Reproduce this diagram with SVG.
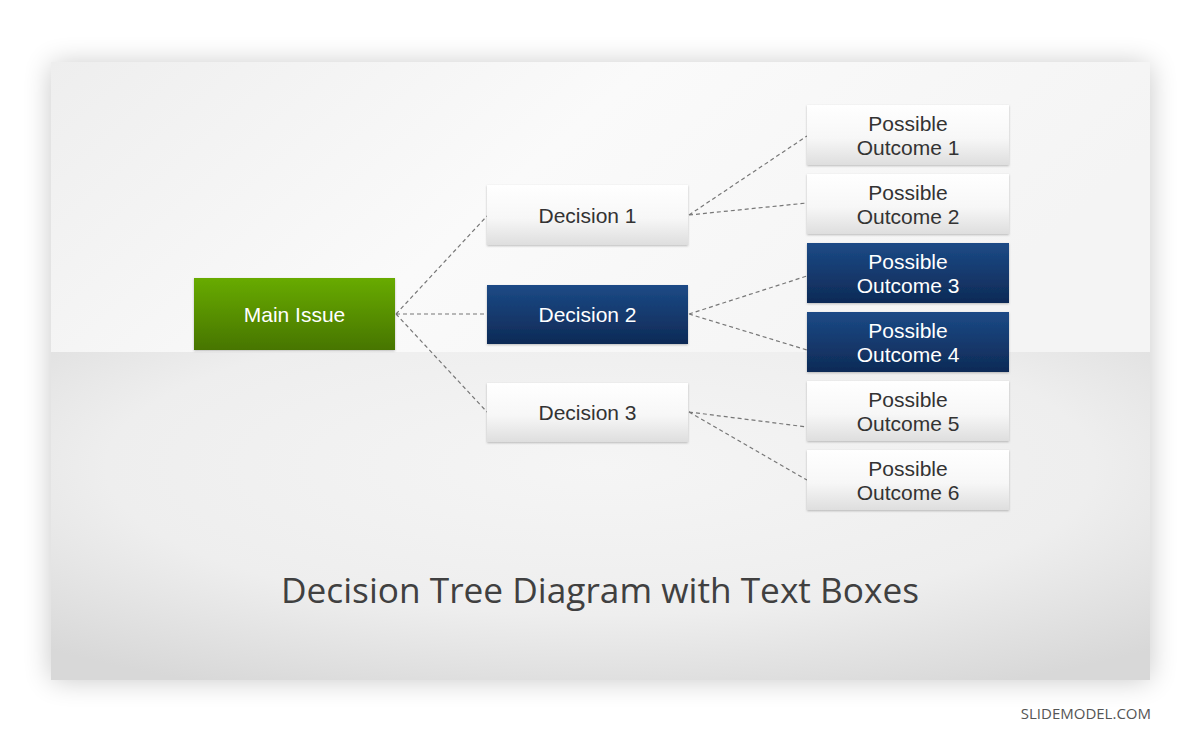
<svg xmlns="http://www.w3.org/2000/svg" width="1200" height="743" viewBox="0 0 1200 743">
<defs>
<style>
.lbl{font-family:"Liberation Sans",Arial,sans-serif;font-size:21px;text-anchor:middle;fill:#333}
.wl{fill:#fff}
.conn{stroke:#777;stroke-width:1.2;stroke-dasharray:4 3;fill:none}
</style>
<linearGradient id="gWhite" x1="0" y1="0" x2="0" y2="1">
<stop offset="0" stop-color="#ffffff"/><stop offset="0.55" stop-color="#f7f7f7"/><stop offset="1" stop-color="#dedede"/>
</linearGradient>
<linearGradient id="gBlue" x1="0" y1="0" x2="0" y2="1">
<stop offset="0" stop-color="#1c4a86"/><stop offset="1" stop-color="#0e2a56"/>
</linearGradient>
<linearGradient id="gGreen" x1="0" y1="0" x2="0" y2="1">
<stop offset="0" stop-color="#68ab06"/><stop offset="1" stop-color="#477500"/>
</linearGradient>
<linearGradient id="gTop" x1="0" y1="0" x2="1" y2="0.3">
<stop offset="0" stop-color="#eeeeee"/><stop offset="0.5" stop-color="#fafafa"/><stop offset="1" stop-color="#f4f4f4"/>
</linearGradient>
<radialGradient id="gBot" cx="0.5" cy="0.35" r="0.75">
<stop offset="0" stop-color="#f5f5f5"/><stop offset="0.6" stop-color="#eeeeee"/><stop offset="1" stop-color="#d8d8d8"/>
</radialGradient>
<filter id="sh" x="-10%" y="-15%" width="120%" height="130%">
<feGaussianBlur stdDeviation="14"/>
</filter>
<filter id="bs" x="-10%" y="-20%" width="120%" height="150%">
<feDropShadow dx="0" dy="1" stdDeviation="1.2" flood-color="#000" flood-opacity="0.25"/>
</filter>
</defs>
<rect width="1200" height="743" fill="#ffffff"/>
<rect x="51" y="64" width="1099" height="616" fill="#000" opacity="0.22" filter="url(#sh)"/>
<rect x="51" y="62" width="1099" height="290" fill="url(#gTop)"/>
<rect x="51" y="352" width="1099" height="328" fill="url(#gBot)"/>
<g id="connectors">
<path class="conn" d="M396 314 L487 216 M396 314 L487 314 M396 314 L487 412"/>
<path class="conn" d="M689 215 L807 136 M689 215 L807 203"/>
<path class="conn" d="M689 314 L807 276 M689 314 L807 350"/>
<path class="conn" d="M689 412 L807 427 M689 412 L807 480"/>
</g>
<g id="main-issue"><rect x="194" y="278" width="201" height="72" fill="url(#gGreen)" filter="url(#bs)"/><text class="lbl wl" x="294.5" y="322">Main Issue</text></g>
<g id="decision-1"><rect x="487" y="185" width="201" height="60" fill="url(#gWhite)" filter="url(#bs)"/><text class="lbl" x="587.5" y="223">Decision 1</text></g>
<g id="decision-2"><rect x="487" y="285" width="201" height="59" fill="url(#gBlue)" filter="url(#bs)"/><text class="lbl wl" x="587.5" y="322">Decision 2</text></g>
<g id="decision-3"><rect x="487" y="383" width="201" height="59" fill="url(#gWhite)" filter="url(#bs)"/><text class="lbl" x="587.5" y="420">Decision 3</text></g>
<g id="outcome-1"><rect x="807" y="105" width="202" height="60" fill="url(#gWhite)" filter="url(#bs)"/><text class="lbl" x="908" y="131">Possible</text><text class="lbl" x="908" y="155">Outcome 1</text></g>
<g id="outcome-2"><rect x="807" y="174" width="202" height="60" fill="url(#gWhite)" filter="url(#bs)"/><text class="lbl" x="908" y="200">Possible</text><text class="lbl" x="908" y="224">Outcome 2</text></g>
<g id="outcome-3"><rect x="807" y="243" width="202" height="60" fill="url(#gBlue)" filter="url(#bs)"/><text class="lbl wl" x="908" y="269">Possible</text><text class="lbl wl" x="908" y="293">Outcome 3</text></g>
<g id="outcome-4"><rect x="807" y="312" width="202" height="60" fill="url(#gBlue)" filter="url(#bs)"/><text class="lbl wl" x="908" y="338">Possible</text><text class="lbl wl" x="908" y="362">Outcome 4</text></g>
<g id="outcome-5"><rect x="807" y="381" width="202" height="60" fill="url(#gWhite)" filter="url(#bs)"/><text class="lbl" x="908" y="407">Possible</text><text class="lbl" x="908" y="431">Outcome 5</text></g>
<g id="outcome-6"><rect x="807" y="450" width="202" height="60" fill="url(#gWhite)" filter="url(#bs)"/><text class="lbl" x="908" y="476">Possible</text><text class="lbl" x="908" y="500">Outcome 6</text></g>
<text x="600" y="603" font-family="'Open Sans',sans-serif" font-size="35" fill="#404040" text-anchor="middle" textLength="638" lengthAdjust="spacingAndGlyphs">Decision Tree Diagram with Text Boxes</text>
<text x="1151" y="719" font-family="'Open Sans',sans-serif" font-size="15" fill="#555" text-anchor="end">SLIDEMODEL.COM</text>
</svg>
